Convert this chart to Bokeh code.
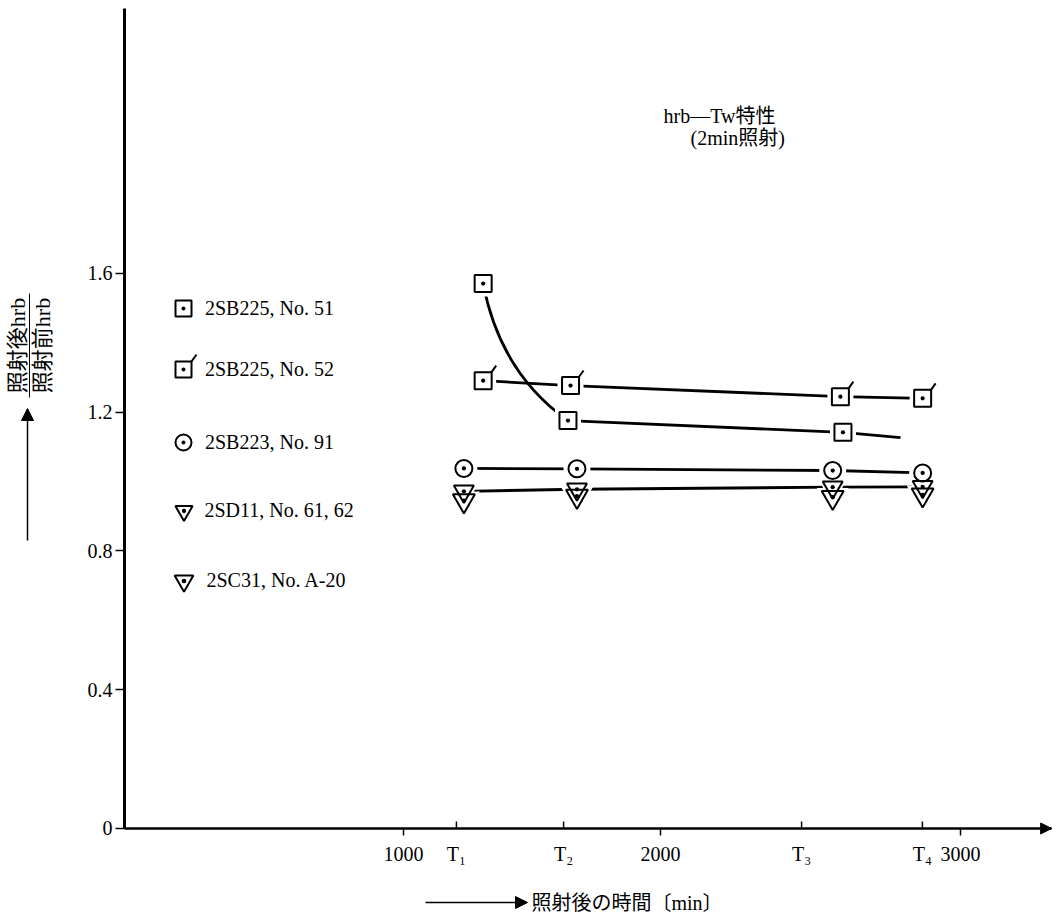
import math
from bokeh.plotting import figure
from bokeh.models import (Range1d, FixedTicker, Label, Arrow, NormalHead,
                          Legend, LegendItem)
from bokeh.embed import file_html
from bokeh.resources import INLINE

SERIF = "'Liberation Serif', 'DejaVu Serif', 'Noto Sans CJK JP'"

# ---------------- data ----------------
# 2SB225, No.51
x_no51 = [1310, 1640, 2710]
y_no51 = [1.571, 1.176, 1.142]
x_no51_tail = 2934          # line continues past T3 (no marker)
y_no51_tail = 1.127

# 2SB225, No.52
x_no52 = [1310, 1650, 2700, 3020]
y_no52 = [1.291, 1.277, 1.245, 1.240]

# 2SB223, No.91
x_no91 = [1235, 1675, 2670, 3020]
y_no91 = [1.038, 1.037, 1.032, 1.025]

# 2SD11, No.61, 62
x_2sd11 = [1235, 1675, 2670, 3020]
y_2sd11 = [0.972, 0.978, 0.984, 0.985]

# 2SC31, No.A-20
x_2sc31 = [1235, 1675, 2670, 3020]
y_2sc31 = [0.945, 0.958, 0.955, 0.962]

legend_labels = ["2SB225, No. 51", "2SB225, No. 52", "2SB223, No. 91",
                 "2SD11, No. 61, 62", "2SC31, No. A-20"]

t_tick_pos = [1206, 1623, 2549, 3019]
t_tick_labels = ["T\u2081", "T\u2082", "T\u2083", "T\u2084"]
num_tick_pos = [1000, 2000, 3167]
num_tick_labels = ["1000", "2000", "3000"]

y_ticks = [0, 0.4, 0.8, 1.2, 1.6]
y_tick_labels = ["0", "0.4", "0.8", "1.2", "1.6"]

title_lines = ["hrb\u2014Tw特性", "(2min照射)"]
x_label = "照射後の時間〔min〕"
y_label_num = "照射後hrb"
y_label_den = "照射前hrb"

# ---------------- figure ----------------
W, H = 1064, 922
X_START, X_END = -568, 3572          # whole canvas width
Y_START, Y_END = -0.271, 2.387       # whole canvas height
X_AXIS_LEFT = -85.6                  # where the y axis stands
X_AXIS_RIGHT = X_END - 50
Y_AXIS_TOP = 2.364
UX = (X_END - X_START) / W           # data units per pixel
UY = (Y_END - Y_START) / H

p = figure(width=W, height=H, x_range=Range1d(X_START, X_END),
           y_range=Range1d(Y_START, Y_END),
           output_backend="svg", toolbar_location=None,
           min_border_left=0, min_border_right=0, min_border_top=0,
           min_border_bottom=0)
p.outline_line_color = None
p.grid.visible = False
p.background_fill_color = "white"

# x axis
xa = p.xaxis[0]
xa.fixed_location = 0
xa.bounds = (X_AXIS_LEFT, X_AXIS_RIGHT)
all_x = sorted(num_tick_pos + t_tick_pos)
xa.ticker = FixedTicker(ticks=all_x, minor_ticks=num_tick_pos)
ov = {}
for pos, lab in zip(num_tick_pos, num_tick_labels):
    ov[pos] = lab
for pos, lab in zip(t_tick_pos, t_tick_labels):
    ov[pos] = lab
xa.major_label_overrides = ov
xa.major_tick_in = 0
xa.major_tick_out = 0
xa.minor_tick_in = 0
xa.minor_tick_out = 7
xa.minor_tick_line_width = 1.5
xa.minor_tick_line_color = "black"
xa.axis_line_width = 2.5
xa.axis_line_color = "black"
xa.major_label_standoff = 8
xa.major_label_text_font = SERIF
xa.major_label_text_font_size = "20px"
xa.major_label_text_color = "black"

# y axis
ya = p.yaxis[0]
ya.fixed_location = X_AXIS_LEFT
ya.bounds = (0, Y_AXIS_TOP)
ya.ticker = FixedTicker(ticks=y_ticks, minor_ticks=[])
ya.major_label_overrides = {t: l for t, l in zip(y_ticks, y_tick_labels)}
ya.major_tick_in = 0
ya.major_tick_out = 9
ya.major_tick_line_width = 1.5
ya.major_tick_line_color = "black"
ya.minor_tick_out = 0
ya.minor_tick_in = 0
ya.axis_line_width = 3
ya.axis_line_color = "black"
ya.major_label_standoff = 3
ya.major_label_text_font = SERIF
ya.major_label_text_font_size = "20px"
ya.major_label_text_color = "black"

# T ticks point upward into the plot
p.segment(x0=t_tick_pos, y0=[0] * len(t_tick_pos), x1=t_tick_pos,
          y1=[7 * UY] * len(t_tick_pos), line_color="black", line_width=1.5)

# arrow head at right end of x axis
p.add_layout(Arrow(end=NormalHead(size=11, fill_color="black", line_color="black"),
                   x_start=X_AXIS_RIGHT - 40, y_start=0, x_end=X_AXIS_RIGHT, y_end=0,
                   line_color="black", line_width=2.5))

LW = 2.8
# ---------------- lines ----------------
p.line(x_no52, y_no52, line_color="black", line_width=LW)
cx = x_no51[0] + 0.2 * (x_no51[1] - x_no51[0])
cy = y_no51[0] + 0.65 * (y_no51[1] - y_no51[0])
p.quadratic(x0=[x_no51[0]], y0=[y_no51[0]], x1=[x_no51[1]], y1=[y_no51[1]],
            cx=[cx], cy=[cy], line_color="black", line_width=LW)
p.line(x_no51[1:] + [x_no51_tail], y_no51[1:] + [y_no51_tail],
       line_color="black", line_width=LW)
p.line(x_no91, y_no91, line_color="black", line_width=LW)
p.line(x_2sd11, y_2sd11, line_color="black", line_width=LW)

# white halos to leave gaps in the lines around the markers
p.scatter(x_no51, y_no51, marker="square", size=26, fill_color="white", line_color=None)
p.scatter(x_no52, y_no52, marker="square", size=26, fill_color="white", line_color=None)
p.scatter(x_no91, y_no91, marker="circle", size=27, fill_color="white", line_color=None)
p.scatter(x_2sd11, y_2sd11, marker="inverted_triangle", size=30,
          fill_color="white", line_color=None)
p.scatter(x_2sc31, y_2sc31, marker="inverted_triangle", size=32,
          fill_color="white", line_color=None)

# ---------------- markers ----------------
r51 = p.scatter(x_no51, y_no51, marker="square_dot", size=17, line_color="black",
                line_width=2, fill_color="white")
r52 = p.scatter(x_no52, y_no52, marker="square_dot", size=17, line_color="black",
                line_width=2, fill_color="white")
# small stroke at the upper right corner of the No.52 squares
p.segment(x0=[x + 8 * UX for x in x_no52], y0=[y + 8 * UY for y in y_no52],
          x1=[x + 13 * UX for x in x_no52], y1=[y + 15 * UY for y in y_no52],
          line_color="black", line_width=2)
r91 = p.scatter(x_no91, y_no91, marker="circle_dot", size=17, line_color="black",
                line_width=2, fill_color="white")
rd11 = p.scatter(x_2sd11, y_2sd11, marker="inverted_triangle", size=20,
                 line_color="black", line_width=2, fill_color=None)
rd11d = p.scatter(x_2sd11, y_2sd11, marker="dot", size=17, line_color="black",
                  fill_color="black")
rc31 = p.scatter(x_2sc31, y_2sc31, marker="inverted_triangle", size=22,
                 line_color="black", line_width=2, fill_color=None)
rc31d = p.scatter(x_2sc31, y_2sc31, marker="dot", size=17, line_color="black",
                  fill_color="black")

# ---------------- legend (one entry per row, placed like the original) ----------------
GLYPH_CX = 183                       # centre of legend symbols (px from left)
TEXT_X = 205                         # start of legend texts
legend_rows = [308, 369, 442, 510, 580]   # row centres (px from top)
legend_boxes = [40, 40, 40, 43, 47]       # symbol box -> symbol size = 0.4 * box
legend_renderers = [[r51], [r52], [r91], [rd11, rd11d], [rc31, rc31d]]
for lab, row, box, rends in zip(legend_labels, legend_rows, legend_boxes, legend_renderers):
    left = GLYPH_CX - box / 2
    lg = Legend(items=[LegendItem(label=lab, renderers=rends)],
                location=(left, H - (row + box / 2)), orientation="vertical",
                glyph_width=box, glyph_height=box, padding=0, margin=0,
                label_standoff=int(round(TEXT_X - left - box)),
                border_line_color=None, background_fill_alpha=0,
                label_text_font=SERIF, label_text_font_size="20px",
                label_text_color="black", label_height=box)
    p.add_layout(lg)
# the small stroke on the No.52 legend square
p.add_layout(Arrow(end=None, x_start=191, y_start=H - 361, x_end=196, y_end=H - 354,
                   start_units="screen", end_units="screen",
                   line_color="black", line_width=2))

# ---------------- title ----------------
p.add_layout(Label(x=663, y=807, x_units="screen", y_units="screen", text=title_lines[0],
                   text_font=SERIF, text_font_size="20px", text_align="left",
                   text_baseline="middle", text_color="black"))
p.add_layout(Label(x=690, y=785, x_units="screen", y_units="screen", text=title_lines[1],
                   text_font=SERIF, text_font_size="20px", text_align="left",
                   text_baseline="middle", text_color="black"))

# ---------------- x label ----------------
p.add_layout(Label(x=531, y=20, x_units="screen", y_units="screen", text=x_label,
                   text_font=SERIF, text_font_size="20px", text_align="left",
                   text_baseline="middle", text_color="black"))
p.add_layout(Arrow(end=NormalHead(size=12, fill_color="black", line_color="black"),
                   x_start=425, y_start=20, x_end=527, y_end=20,
                   start_units="screen", end_units="screen",
                   line_color="black", line_width=1.5))

# ---------------- y label (fraction, rotated) ----------------
p.add_layout(Label(x=17, y=577, x_units="screen", y_units="screen", text=y_label_num,
                   text_font=SERIF, text_font_size="22px", text_align="center",
                   text_baseline="middle", angle=math.pi / 2, angle_units="rad",
                   text_color="black"))
p.add_layout(Label(x=42, y=577, x_units="screen", y_units="screen", text=y_label_den,
                   text_font=SERIF, text_font_size="22px", text_align="center",
                   text_baseline="middle", angle=math.pi / 2, angle_units="rad",
                   text_color="black"))
p.add_layout(Arrow(end=None, x_start=29, y_start=525, x_end=29, y_end=629,
                   start_units="screen", end_units="screen",
                   line_color="black", line_width=1))
p.add_layout(Arrow(end=NormalHead(size=12, fill_color="black", line_color="black"),
                   x_start=27, y_start=382, x_end=27, y_end=514,
                   start_units="screen", end_units="screen",
                   line_color="black", line_width=1.5))

open("out.html", "w").write(file_html(p, INLINE))
